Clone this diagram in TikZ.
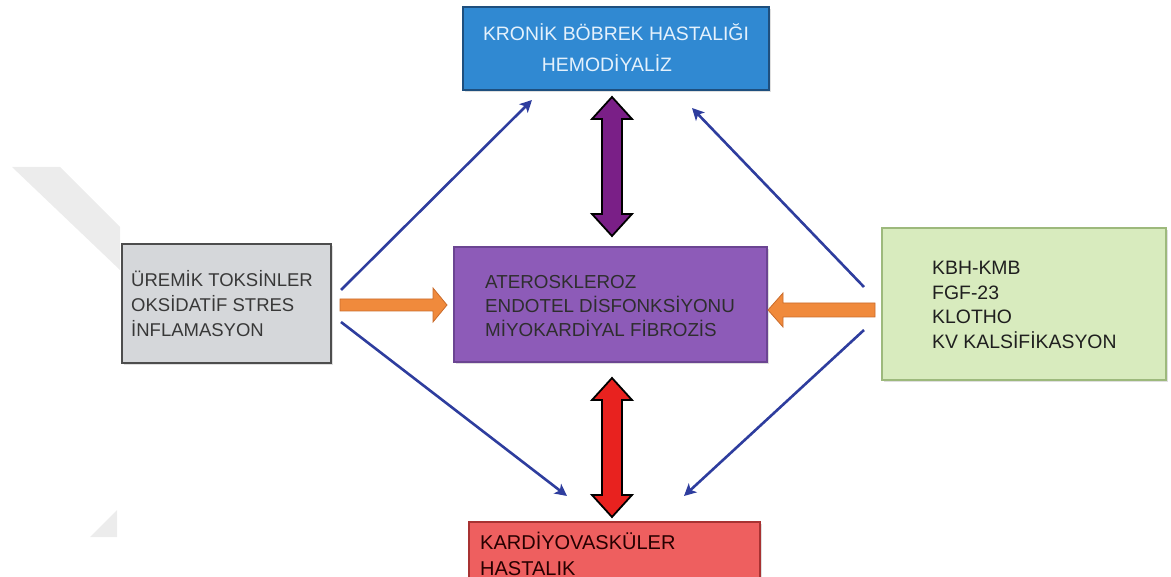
\documentclass[tikz,border=0pt]{standalone}
\usepackage{fontspec}
\setmainfont{Liberation Sans}
\usetikzlibrary{arrows.meta,shadows}
\definecolor{kbhblue}{HTML}{3089D2}
\definecolor{kbhborder}{HTML}{1E4F7E}
\definecolor{kbhtext}{HTML}{E4F1FC}
\definecolor{grayfill}{HTML}{D5D7DA}
\definecolor{grayborder}{HTML}{4D4D4D}
\definecolor{purpfill}{HTML}{8D5BB8}
\definecolor{purpborder}{HTML}{6B4592}
\definecolor{greenfill}{HTML}{D8EBBE}
\definecolor{greenborder}{HTML}{9DB97C}
\definecolor{redfill}{HTML}{EE5F5F}
\definecolor{redborder}{HTML}{A83232}
\definecolor{darrowP}{HTML}{7A1F87}
\definecolor{darrowR}{HTML}{E8221F}
\definecolor{orangefill}{HTML}{F08A3C}
\definecolor{orangeborder}{HTML}{C96B2B}
\definecolor{linkblue}{HTML}{2E3D9E}
\definecolor{wmgray}{HTML}{ECECEC}
\begin{document}
\begin{tikzpicture}[x=1pt,y=-1pt,
  box/.style={rectangle, line width=1.4pt, inner sep=0pt,
    drop shadow={opacity=0.25, shadow xshift=2pt, shadow yshift=-2pt}},
  lbl/.style={inner sep=0pt, anchor=west, align=left},
  link/.style={draw=linkblue, line width=2.6pt,
    -{Stealth[length=12pt, width=12pt, inset=3pt]}},
  blockP/.style={fill=darrowP, draw=black, line width=1.8pt, line join=miter},
  blockR/.style={fill=darrowR, draw=black, line width=1.8pt, line join=miter},
  blockO/.style={fill=orangefill, draw=orangeborder, line width=0.8pt, line join=miter}]
\useasboundingbox (0,0) rectangle (1171,577);
% faint watermark
\fill[wmgray] (12,167) -- (60,167) -- (120,227) -- (120,270) -- cycle;
\fill[wmgray] (90,537) -- (117,510) -- (117,537) -- cycle;

% boxes
\node[box, fill=kbhblue, draw=kbhborder, minimum width=306pt, minimum height=83pt] (kbh) at (616,48.5) {};
\node[inner sep=0pt, text=kbhtext, font=\fontsize{19.4}{24}\selectfont] (kbhA) at (616,32) {KRONİK BÖBREK HASTALIĞI};
\node[inner sep=0pt, text=kbhtext, font=\fontsize{19.4}{24}\selectfont] (kbhB) at (607,63) {HEMODİYALİZ};

\node[box, fill=grayfill, draw=grayborder, minimum width=209pt, minimum height=119pt] (ure) at (226.5,303.5) {};
\node[lbl, text=black!78, font=\fontsize{18.5}{25}\selectfont] (uretxt) at (131,304) {ÜREMİK TOKSİNLER\\OKSİDATİF STRES\\İNFLAMASYON};

\node[box, fill=purpfill, draw=purpborder, minimum width=313pt, minimum height=115pt] (ath) at (610.5,304.5) {};
\node[lbl, text=black!82, font=\fontsize{18.8}{24}\selectfont] (athtxt) at (485,306) {ATEROSKLEROZ\\ENDOTEL DİSFONKSİYONU\\MİYOKARDİYAL FİBROZİS};

\node[box, fill=greenfill, draw=greenborder, minimum width=284pt, minimum height=152pt] (kmb) at (1024,304) {};
\node[lbl, text=black!88, font=\fontsize{19.4}{24.7}\selectfont] (kmbtxt) at (932,305) {KBH-KMB\\FGF-23\\KLOTHO\\KV KALSİFİKASYON};

\node[box, fill=redfill, draw=redborder, minimum width=291pt, minimum height=78pt] (kvh) at (614.5,561) {};
\node[lbl, text=black!85!red, font=\fontsize{20}{26}\selectfont] (kvhtxt) at (480,554) {KARDİYOVASKÜLER\\HASTALIK};

% blue connectors
\coordinate (ureA) at (341,290);
\coordinate (ureB) at (341,322);
\coordinate (kmbA) at (864,287);
\coordinate (kmbB) at (864,330);
\coordinate (kbhL) at (532,100);
\coordinate (kbhR) at (692,108);
\coordinate (kvhL) at (567,496);
\coordinate (kvhR) at (684,496);
\draw[link] (ureA) -- (kbhL);
\draw[link] (ureB) -- (kvhL);
\draw[link] (kmbA) -- (kbhR);
\draw[link] (kmbB) -- (kvhR);

% orange block arrows
\coordinate (oLtail) at (340,305);
\coordinate (oLtip) at (447,305);
\draw[blockO] (oLtail) -- ++(0,-6) -- ++(93,0) -- ++(0,-11) -- (oLtip) -- ++(-14,17) -- ++(0,-11) -- ++(-93,0) -- cycle;
\coordinate (oRtail) at (875,310);
\coordinate (oRtip) at (768,310);
\draw[blockO] (oRtail) -- ++(0,-7) -- ++(-92,0) -- ++(0,-10) -- (oRtip) -- ++(15,17) -- ++(0,-10) -- ++(92,0) -- cycle;

% vertical double arrows
\coordinate (pTop) at (612,97);
\coordinate (pBot) at (612,236);
\draw[blockP] (pTop) -- ++(20,22) -- ++(-10,0) -- ++(0,95) -- ++(10,0) -- (pBot) -- ++(-20,-22) -- ++(10,0) -- ++(0,-95) -- ++(-10,0) -- cycle;
\coordinate (rTop) at (612,378);
\coordinate (rBot) at (612,517);
\draw[blockR] (rTop) -- ++(20,22) -- ++(-10,0) -- ++(0,95) -- ++(10,0) -- (rBot) -- ++(-20,-22) -- ++(10,0) -- ++(0,-95) -- ++(-10,0) -- cycle;
\end{tikzpicture}
\end{document}
